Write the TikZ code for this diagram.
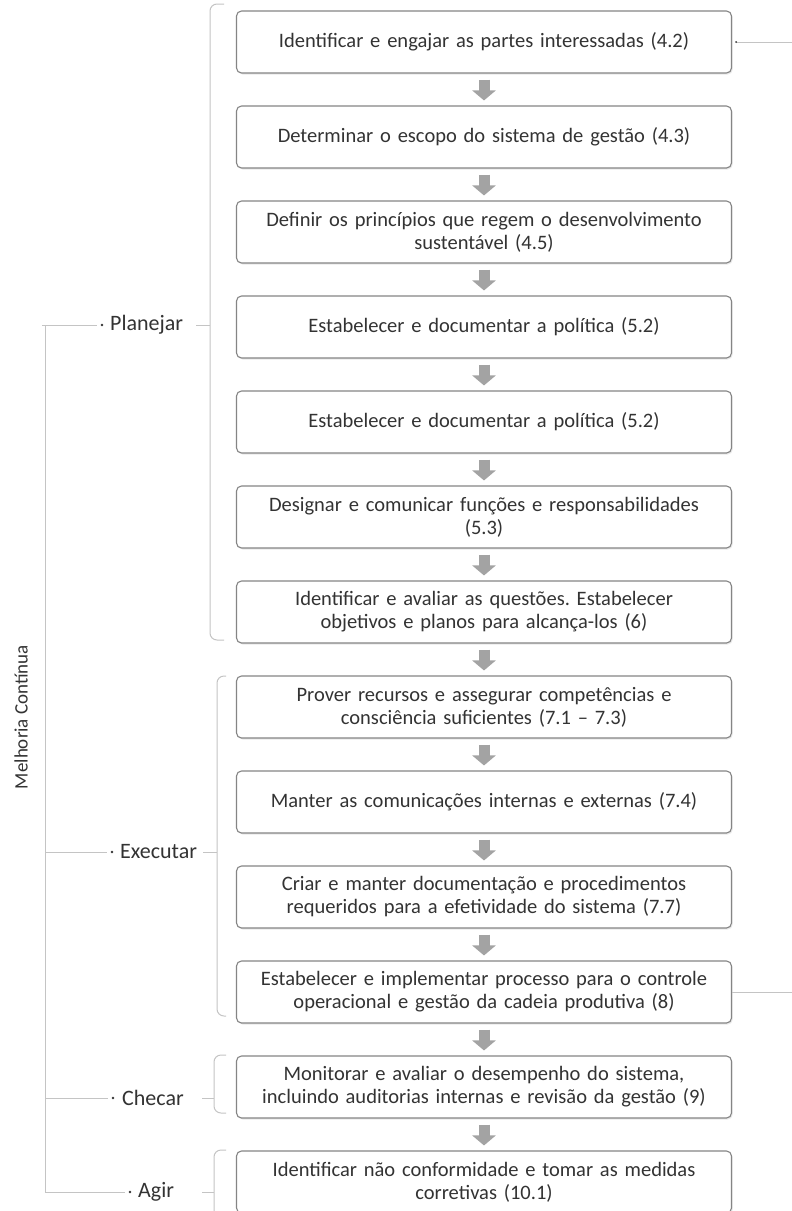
\documentclass[tikz,border=0pt]{standalone}
\usepackage{fontspec}
\setmainfont{Carlito}
\usetikzlibrary{arrows.meta,shadows,calc}
\frenchspacing
\definecolor{txt}{HTML}{333333}
\definecolor{bord}{HTML}{858585}
\definecolor{thin}{HTML}{C4C4C4}
\definecolor{arr}{HTML}{A3A3A3}
\tikzset{
  stepbox/.style={draw=bord, line width=1.1pt, rounded corners=5pt, fill=white,
    minimum width=495pt, minimum height=62pt, text width=485pt, align=center,
    text=txt, font=\fontsize{20.5}{23}\selectfont,
    drop shadow={opacity=0.18, shadow xshift=1.2pt, shadow yshift=-1.5pt}},
  flow/.style={draw=arr, line width=11pt, -{Triangle[width=23pt,length=10pt]}, shorten >=5pt, shorten <=6pt},
  brk/.style={draw=thin, line width=1pt, rounded corners=7pt},
  lbl/.style={text=txt, font=\fontsize{22}{24}\selectfont, inner sep=0pt},
  tree/.style={draw=thin, line width=1pt},
}
\begin{document}
\begin{tikzpicture}[x=1pt,y=-1pt]
\useasboundingbox (0,0) rectangle (792,1211);
\fill[white] (0,0) rectangle (792,1211);
% boxes
\node[stepbox] (b1) at (484,42) {Identificar e engajar as partes interessadas (4.2)};
\node[stepbox] (b2) at (484,137) {Determinar o escopo do sistema de gestão (4.3)};
\node[stepbox] (b3) at (484,232) {Definir os princípios que regem o desenvolvimento\\sustentável (4.5)};
\node[stepbox] (b4) at (484,327) {Estabelecer e documentar a política (5.2)};
\node[stepbox] (b5) at (484,422) {Estabelecer e documentar a política (5.2)};
\node[stepbox] (b6) at (484,517) {Designar e comunicar funções e responsabilidades\\(5.3)};
\node[stepbox] (b7) at (484,612) {Identificar e avaliar as questões. Estabelecer\\objetivos e planos para alcança-los (6)};
\node[stepbox] (b8) at (484,707) {Prover recursos e assegurar competências e\\consciência suficientes (7.1 – 7.3)};
\node[stepbox] (b9) at (484,802) {Manter as comunicações internas e externas (7.4)};
\node[stepbox] (b10) at (484,897) {Criar e manter documentação e procedimentos\\requeridos para a efetividade do sistema (7.7)};
\node[stepbox] (b11) at (484,992) {Estabelecer e implementar processo para o controle\\operacional e gestão da cadeia produtiva (8)};
\node[stepbox] (b12) at (484,1087) {Monitorar e avaliar o desempenho do sistema,\\incluindo auditorias internas e revisão da gestão (9)};
\node[stepbox] (b13) at (484,1182) {Identificar não conformidade e tomar as medidas\\corretivas (10.1)};
% flow arrows
\foreach \a/\b in {b1/b2,b2/b3,b3/b4,b4/b5,b5/b6,b6/b7,b7/b8,b8/b9,b9/b10,b10/b11,b11/b12,b12/b13}
  \draw[flow] (\a.south) -- (\b.north);
% right lines
\coordinate (r1) at (792,42);
\coordinate (r11) at (792,992);
\draw[tree] ($(b1.east)+(4,0)$) -- (r1);
\fill[txt] ($(b1.east)+(4,0)$) circle (1pt);
\draw[tree] (b11.east) -- (r11);
% brackets
\draw[brk] (224,4) -| (210,640) -- (224,640);
\draw[brk] (226,676) -| (217,1016) -- (226,1016);
\draw[brk] (226,1055) -| (214,1113) -- (226,1113);
\draw[brk] (226,1150) -| (214,1225);
% labels
\node[lbl, anchor=west] (pl) at (110,325) {Planejar};
\node[lbl, anchor=west] (ex) at (120,852) {Executar};
\node[lbl, anchor=west] (ch) at (122,1098) {Checar};
\node[lbl, anchor=west] (ag) at (138,1192) {Agir};
\coordinate (dpl) at (102,325);
\coordinate (dex) at (112,852);
\coordinate (dch) at (113,1098);
\coordinate (dag) at (130,1192);
\foreach \d in {dpl,dex,dch,dag} \fill[txt] (\d) circle (1.4pt);
% ticks to brackets
\coordinate (kpl) at (210,325);
\coordinate (kex) at (217,852);
\coordinate (kch) at (214,1098);
\coordinate (kag) at (214,1192);
\draw[tree] ($(kpl)+(-14,0)$) -- (kpl);
\draw[tree] ($(kex)+(-14,0)$) -- (kex);
\draw[tree] ($(kch)+(-12,0)$) -- (kch);
\draw[tree] ($(kag)+(-12,0)$) -- (kag);
% tree
\node[lbl, rotate=90, font=\fontsize{19}{23}\selectfont] (mc) at (21,717) {Melhoria Contínua};
\coordinate (t1) at (45,325);
\coordinate (t4) at (45,1192);
\draw[tree] (t1) -- (t4);
\draw[tree] (42,325) -- ($(dpl)+(-5,0)$);
\draw[tree] (45,852) -- ($(dex)+(-5,0)$);
\draw[tree] (45,1098) -- ($(dch)+(-5,0)$);
\draw[tree] (45,1192) -- ($(dag)+(-5,0)$);
\end{tikzpicture}
\end{document}
